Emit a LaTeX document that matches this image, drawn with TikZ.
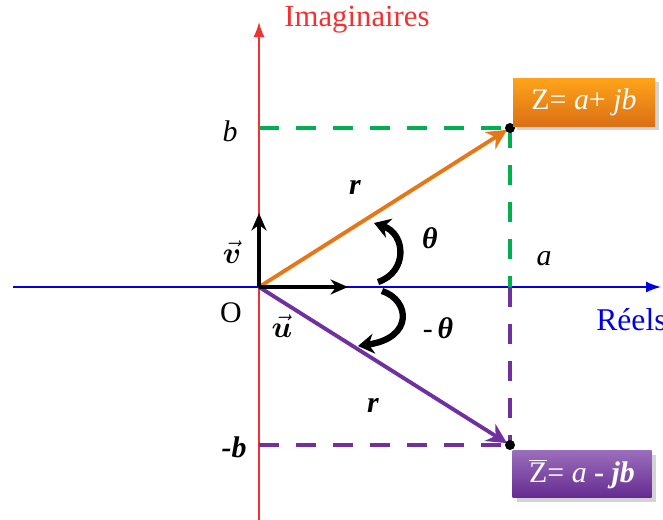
\documentclass[tikz,border=0pt]{standalone}
\usepackage{fontspec}
\setmainfont{Liberation Serif}
\usepackage{bm}
\usetikzlibrary{arrows.meta, shadows, positioning}
\definecolor{orangeZ}{RGB}{230,118,22}
\definecolor{purpleZ}{RGB}{112,48,160}
\definecolor{greenZ}{RGB}{0,176,80}
\definecolor{redaxis}{RGB}{240,50,50}
\definecolor{blueaxis}{RGB}{0,0,230}
\tikzset{
	lbl/.style={font=\fontsize{17}{20}\selectfont, inner sep=0pt}
}
\tikzset{
	projline/.style={line width=2.8pt, dash pattern=on 0.4cm off 0.34cm},
	vecarrow/.style={line width=2.3pt, -{Stealth[length=3.5mm,width=3mm]}},
	anglearc/.style={line width=3.6pt, -{Stealth[length=3.2mm,width=4mm]}},
	zbox/.style={minimum width=2.84cm, minimum height=0.96cm, text=white,
	  font=\fontsize{17}{20}\selectfont, drop shadow={opacity=0.35}}
}
\newcommand{\vb}[1]{$\vec{\bm{#1}}$}

\begin{document}
\begin{tikzpicture}[x=0.2mm, y=-0.2mm]
      \useasboundingbox (0,0) rectangle (663,520);
      % points
      \coordinate (O) at (259,287);
      \coordinate (Z) at (510,128);
      \coordinate (Zb) at (510,445);
      \coordinate (B) at (259,128);
      \coordinate (Bm) at (259,445);
      \coordinate (A) at (510,287);
      \coordinate (xl) at (13,287);
      \coordinate (xr) at (661,287);
      \coordinate (yb) at (259,520);
      \coordinate (yt) at (259,22);
      % axes
      \draw[redaxis, line width=0.9pt, -{Latex[length=3mm,width=2.2mm]}] (yb) -- (yt);
      \draw[blueaxis, line width=0.9pt, -{Latex[length=3mm,width=2.2mm]}] (xl) -- (xr);
      \node[lbl, text=redaxis, font=\fontsize{17.5}{20}\selectfont] (im) at (357,20) {Imaginaires};
      \node[lbl, text=blueaxis, anchor=west, font=\fontsize{18}{20}\selectfont] (re) at (596,320) {Réels};
      \node[lbl] (o) at (231,313) {O};
      % projections
      \draw[projline, greenZ] (B) -- (Z);
      \draw[projline, greenZ] (Z) -- (A);
      \draw[projline, purpleZ] (Bm) -- (Zb);
      \draw[projline, purpleZ] (A) -- (Zb);
      % vectors Z and conj Z
      \draw[orangeZ, line width=2.2pt, shorten >=2pt, -{Stealth[length=4mm,width=4mm]}] (O) -- (Z);
      \draw[purpleZ, line width=2.2pt, shorten >=2pt, -{Stealth[length=4mm,width=4mm]}] (O) -- (Zb);
      \fill (Z) circle (5);
      \fill (Zb) circle (5);
      % unit vectors
      \coordinate (vt) at (259,213);
      \coordinate (ut) at (348,287);
      \draw[vecarrow] (O) -- (vt);
      \draw[vecarrow] (O) -- (ut);
      \node[lbl] (v) at (232,252) {\vb{v}};
      \node[lbl] (u) at (282,326) {\vb{u}};
      % angles
      \coordinate (a1) at (378,282);
      \coordinate (a2) at (374,223);
      \coordinate (a3) at (382,291);
      \coordinate (a4) at (358,346);
      \draw[anglearc] (a1) .. controls (408,272) and (406,234) .. (a2);
      \draw[anglearc] (a3) .. controls (410,300) and (414,338) .. (a4);
      \node[lbl] (th) at (430,238) {\textbf{\textit{θ}}};
      \node[lbl] (mth) at (438,328) {-\,\textbf{\textit{θ}}};
      % labels
      \node[lbl] (b) at (230,131) {\textit{b}};
      \node[lbl] (mb) at (234,447) {\textbf{\textit{-b}}};
      \node[lbl] (a) at (544,259) {\textit{a}};
      \node[lbl] (r1) at (355,187) {\textbf{\textit{r}}};
      \node[lbl] (r2) at (373,405) {\textbf{\textit{r}}};
      % boxes
      \node[zbox, top color=orange!80!yellow!90!white, bottom color=orangeZ!95!black] (zt) at (584,102)
        {Z= \textit{a}+ \textit{jb}};
      \node[zbox, minimum width=2.78cm, minimum height=0.94cm, top color=purpleZ!70!white, bottom color=purpleZ!90!black] (zc) at (582,474)
        {$\overline{\mbox{Z}}$= \textit{a} \textbf{-} \textbf{\textit{jb}}};
    \end{tikzpicture}
\end{document}
